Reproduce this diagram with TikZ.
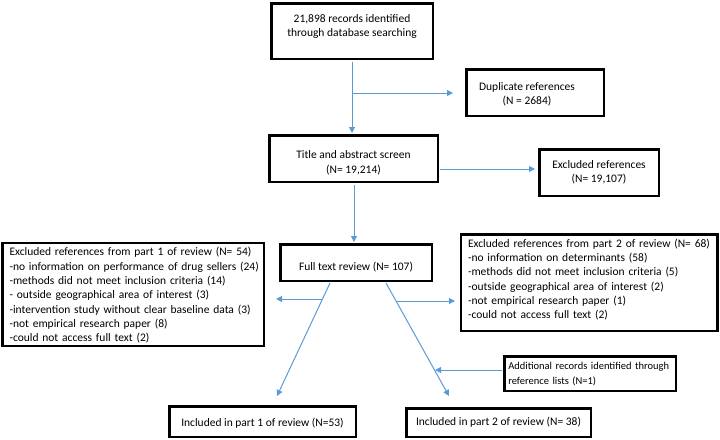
\documentclass[tikz,border=0pt]{standalone}
\usepackage{fontspec}
\setmainfont{Carlito}
\usetikzlibrary{arrows.meta}
\definecolor{lineblue}{HTML}{5B9BD5}
\newcommand{\linesl}[1]{\begin{tabular}{@{}l@{}}#1\end{tabular}}
\tikzset{
  box/.style={draw=black, line width=2.5pt, rectangle, inner sep=0pt, align=center, font=\fontsize{11.5}{14.3}\selectfont},
  lbox/.style={box, align=left, inner xsep=7.25pt},
  arr/.style={draw=lineblue, line width=1pt, -{Triangle[length=6pt,width=6pt]}}
}
\begin{document}
\begin{tikzpicture}[x=1pt,y=-1pt]
\useasboundingbox (0,0) rectangle (720,439);
\node[box, minimum width=161.5pt, minimum height=55.5pt] (top) at (352,31) {21,898 records identified\\through database searching\rule[-11pt]{0pt}{11pt}};
\node[box, minimum width=137.5pt, minimum height=46.5pt] (dup) at (535,92.5) {\hspace*{-16pt}\rule{0pt}{12pt}Duplicate references\\\hspace*{-16pt}(N = 2684)};
\node[box, minimum width=168.5pt, minimum height=46.5pt] (title) at (353.5,158.5) {\rule{0pt}{16.5pt}Title and abstract screen\\(N= 19,214)};
\node[box, minimum width=119.5pt, minimum height=46.5pt] (exc) at (599,172.5) {Excluded references\\(N= 19,107)};
\node[box, minimum width=151.5pt, minimum height=36.5pt] (full) at (356,262.5) {\rule{0pt}{17pt}Full text review (N= 107)};
\node[lbox, text width=247pt, minimum height=102.5pt] (ex1) at (133,294.5) {\linesl{\rule{0pt}{13pt}Excluded references from part 1 of review (N= 54)\\-no information on performance of drug sellers (24)\\-methods did not meet inclusion criteria (14)\\- outside geographical area of interest (3)\\-intervention study without clear baseline data (3)\\-not empirical research paper (8)\\-could not access full text (2)}};
\node[lbox, text width=242pt, minimum height=96.5pt] (ex2) at (589,282.5) {\linesl{Excluded references from part 2 of review (N= 68)\\-no information on determinants (58)\\-methods did not meet inclusion criteria (5)\\-outside geographical area of interest (2)\\-not empirical research paper (1)\\-could not access full text (2)\rule[-9pt]{0pt}{9pt}}};
\node[lbox, inner xsep=4pt, text width=163.5pt, minimum height=34.5pt, font=\fontsize{10.5}{15}\selectfont] (add) at (590,373.5) {\linesl{Additional records identified through\\reference lists (N=1)}};
\node[box, minimum width=186.5pt, minimum height=30.5pt] (inc1) at (262.5,421.5) {\rule{0pt}{11pt}Included in part 1 of review (N=53)};
\node[box, minimum width=184.5pt, minimum height=28.5pt] (inc2) at (498.5,422.5) {Included in part 2 of review (N= 38)};
% connector points
\coordinate (t1) at (352,61.5);
\coordinate (t2) at (352,133);
\coordinate (br1) at (352,93);
\coordinate (dupend) at (453,93);
\coordinate (ts) at (439.5,169);
\coordinate (excend) at (535,169);
\coordinate (m1) at (354,184.5);
\coordinate (m2) at (354,242);
\coordinate (fs1) at (330,283);
\coordinate (d1end) at (277,396);
\coordinate (fs2) at (386,283);
\coordinate (d2end) at (449,396);
\coordinate (h1s) at (322,299);
\coordinate (h1e) at (276,299);
\coordinate (h2s) at (396,301);
\coordinate (h2e) at (455,301);
\coordinate (as) at (502,370);
\coordinate (ae) at (435,370);
\draw[arr] (t1) -- (t2);
\draw[arr] (br1) -- (dupend);
\draw[arr] (ts) -- (excend);
\draw[arr] (m1) -- (m2);
\draw[arr] (fs1) -- (d1end);
\draw[arr] (fs2) -- (d2end);
\draw[arr] (h1s) -- (h1e);
\draw[arr] (h2s) -- (h2e);
\draw[arr] (as) -- (ae);
\end{tikzpicture}
\end{document}
